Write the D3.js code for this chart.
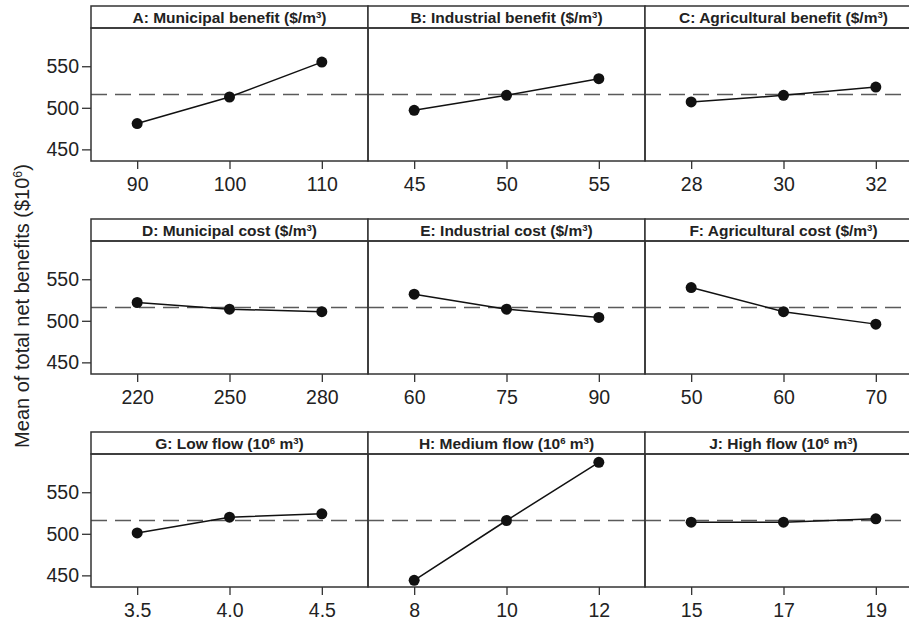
<!DOCTYPE html>
<html lang="en">
    <head>
        <meta charset="utf-8">
        <title>Main effects</title>
        <script type="text/javascript" src="https://cdn.jsdelivr.net/npm/d3@7"></script>
        <style>
            body { margin: 0; background: #fff; }
        </style>
    </head>
    <body>
        <script type="text/javascript">
        // panel titles, "^n" marks a superscript
        var titles = [
            "A: Municipal benefit ($/m^3)",
            "B: Industrial benefit ($/m^3)",
            "C: Agricultural benefit ($/m^3)",
            "D: Municipal cost ($/m^3)",
            "E: Industrial cost ($/m^3)",
            "F: Agricultural cost ($/m^3)",
            "G: Low flow (10^6 m^3)",
            "H: Medium flow (10^6 m^3)",
            "J: High flow (10^6 m^3)"
        ];
        var levels = [
            ["90", "100", "110"],
            ["45", "50", "55"],
            ["28", "30", "32"],
            ["220", "250", "280"],
            ["60", "75", "90"],
            ["50", "60", "70"],
            ["3.5", "4.0", "4.5"],
            ["8", "10", "12"],
            ["15", "17", "19"]
        ];
        var means = [
            [481, 513, 555],
            [497, 515, 535],
            [507, 515, 525],
            [522, 514, 511],
            [532, 514, 504],
            [540, 511, 496],
            [501, 520, 524],
            [444, 516, 586],
            [514, 514, 518]
        ];
        var grandMean = 516;
        var yTicks = [450, 500, 550];

        var w = 909;
        var h = 621;
        var left = 91;
        var panelW = 277;
        var rowTops = [6, 219, 432];
        var stripH = 22;
        var plotH = 133;
        var ink = "#222";
        var border = "#333";
        var font = "Arial, 'Liberation Sans', Helvetica, sans-serif";

        var svg = d3.select("body")
                    .append("svg")
                    .attr("width", w)
                    .attr("height", h)
                    .attr("font-family", font);

        var yScale = d3.scaleLinear()
                    .domain([436, 596])
                    .range([plotH, 0]);

        function addRich(textSel, str) {
            str.split(/(\^\d)/).forEach(function(part) {
                if (part === "") return;
                if (part[0] === "^") {
                    textSel.append("tspan")
                        .attr("baseline-shift", "super")
                        .attr("font-size", "0.62em")
                        .text(part.slice(1));
                } else {
                    textSel.append("tspan").text(part);
                }
            });
        }

        titles.forEach(function(title, i) {
            var row = Math.floor(i / 3);
            var col = i % 3;
            var px = left + col * panelW;
            var py = rowTops[row];

            var g = svg.append("g")
                .attr("transform", "translate(" + px + "," + py + ")");

            // strip
            g.append("rect")
                .attr("x", 0).attr("y", 0)
                .attr("width", panelW).attr("height", stripH)
                .attr("fill", "#fff")
                .attr("stroke", border)
                .attr("stroke-width", 1.5);

            var t = g.append("text")
                .attr("x", panelW / 2)
                .attr("y", stripH / 2 + 6)
                .attr("text-anchor", "middle")
                .attr("font-weight", "bold")
                .attr("font-size", "15.5px")
                .attr("fill", ink);
            addRich(t, title);

            var plot = g.append("g")
                .attr("transform", "translate(0," + stripH + ")");

            var xScale = d3.scalePoint()
                .domain(levels[i])
                .range([0, panelW])
                .padding(0.5);

            // reference line at grand mean
            plot.append("line")
                .attr("x1", 0).attr("x2", panelW)
                .attr("y1", yScale(grandMean)).attr("y2", yScale(grandMean))
                .attr("stroke", "#5a5a5a")
                .attr("stroke-width", 1.5)
                .attr("stroke-dasharray", "16,8");

            var pts = levels[i].map(function(l, k) {
                return { lev: l, val: means[i][k] };
            });

            var line = d3.line()
                .x(function(d) { return xScale(d.lev); })
                .y(function(d) { return yScale(d.val); });

            plot.append("path")
                .datum(pts)
                .attr("d", line)
                .attr("fill", "none")
                .attr("stroke", "#111")
                .attr("stroke-width", 1.5);

            plot.selectAll("circle")
                .data(pts)
                .enter()
                .append("circle")
                .attr("cx", function(d) { return xScale(d.lev); })
                .attr("cy", function(d) { return yScale(d.val); })
                .attr("r", 5.5)
                .attr("fill", "#111");

            plot.append("rect")
                .attr("width", panelW).attr("height", plotH)
                .attr("fill", "none")
                .attr("stroke", border)
                .attr("stroke-width", 1.5);

            var xAxis = plot.append("g")
                .attr("transform", "translate(0," + plotH + ")")
                .call(d3.axisBottom(xScale).tickSize(8).tickPadding(8));
            xAxis.select(".domain").remove();
            xAxis.selectAll("line").attr("stroke", border).attr("stroke-width", 1.3);
            xAxis.selectAll("text").attr("font-size", "19.5px").attr("fill", ink)
                .attr("font-family", font);

            if (col === 0) {
                var yAxis = plot.append("g")
                    .call(d3.axisLeft(yScale).tickValues(yTicks).tickSize(9).tickPadding(3));
                yAxis.select(".domain").remove();
                yAxis.selectAll("line").attr("stroke", border).attr("stroke-width", 1.3);
                yAxis.selectAll("text").attr("font-size", "19.5px").attr("fill", ink)
                    .attr("font-family", font);
            }
        });

        var yl = svg.append("text")
            .attr("transform", "translate(29,306) rotate(-90)")
            .attr("text-anchor", "middle")
            .attr("font-size", "20px")
            .attr("fill", ink);
        addRich(yl, "Mean of total net benefits ($10^6)");
        </script>
    </body>
</html>
